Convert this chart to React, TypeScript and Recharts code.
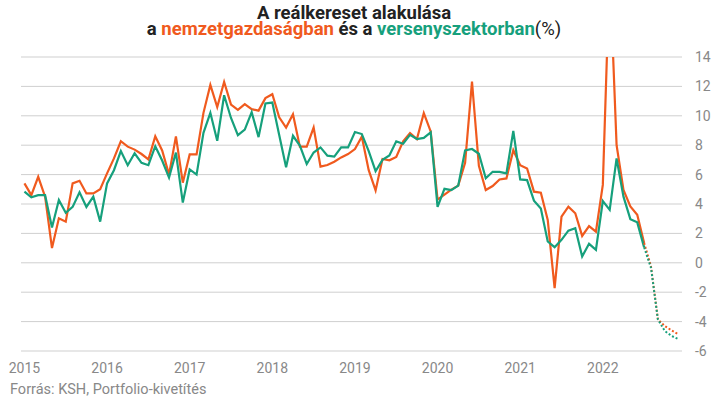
import { LineChart, Line, XAxis, YAxis, CartesianGrid } from 'recharts'

const NARANCS = '#f05a1e'
const ZOLD = '#16a07c'
const SZURKE = '#888888'

// havi adatok, 2015. január – 2022. július (tény)
const nemzetgazdasag = [
  5.4, 4.6, 5.85, 4.5, 1.0, 3.03, 2.8, 5.4, 5.58, 4.72, 4.72, 5.0,
  6.08, 7.1, 8.27, 7.9, 7.7, 7.4, 7.03, 8.6, 7.64, 6.0, 8.6, 5.45,
  7.37, 7.37, 10.2, 12.1, 10.6, 12.3, 10.76, 10.4, 10.8, 10.45, 10.35, 11.2,
  11.47, 9.9, 9.2, 10.1, 7.9, 7.9, 9.2, 6.54, 6.65, 6.88, 7.17, 7.4,
  7.74, 8.58, 6.3, 4.92, 7.06, 6.97, 7.2, 8.26, 8.82, 8.42, 10.18, 8.94,
  4.3, 4.64, 4.98, 5.25, 6.8, 12.33, 6.6, 4.95, 5.22, 5.67, 5.74, 7.66,
  6.64, 6.42, 4.84, 4.77, 2.92, -1.72, 3.14, 3.82, 3.37, 1.83, 2.5, 2.12,
  5.3, 20.0, 8.0, 4.96, 3.83, 3.27, 1.35,
]

const versenyszektor = [
  4.84, 4.45, 4.6, 4.6, 2.4, 4.27, 3.4, 3.8, 4.8, 3.8, 4.5, 2.8,
  5.4, 6.3, 7.6, 6.64, 7.45, 6.8, 6.64, 7.93, 6.96, 5.8, 7.5, 4.1,
  6.35, 6.0, 8.84, 10.2, 8.3, 11.4, 9.85, 8.68, 9.06, 10.25, 8.55, 10.84,
  10.9, 8.7, 6.5, 8.64, 7.97, 6.72, 7.5, 7.85, 7.29, 7.22, 7.85, 7.85,
  8.9, 8.76, 7.6, 6.23, 7.0, 7.3, 8.26, 8.1, 8.7, 8.42, 8.5, 8.87,
  3.8, 5.03, 4.94, 5.25, 7.65, 7.74, 7.42, 5.75, 6.19, 6.19, 6.08, 8.97,
  5.67, 5.63, 4.23, 3.7, 1.45, 1.06, 1.56, 2.19, 2.35, 0.43, 1.29, 0.88,
  4.2, 3.6, 7.1, 4.5, 2.97, 2.75, 1.05,
]

// kivetítés, 2022. július – december
const nemzetgazdasagKivetites = [1.35, -0.25, -3.85, -4.3, -4.6, -4.87]
const versenyszektorKivetites = [1.05, -0.35, -3.85, -4.64, -4.98, -5.2]

const EVEK = ['2015', '2016', '2017', '2018', '2019', '2020', '2021', '2022']
const Y_TICKS = [-6, -4, -2, 0, 2, 4, 6, 8, 10, 12, 14]

const tenyHossz = nemzetgazdasag.length
const osszHossz = tenyHossz - 1 + nemzetgazdasagKivetites.length

const data = Array.from({ length: osszHossz }, (_, idx) => ({
  idx,
  ng: idx < tenyHossz ? nemzetgazdasag[idx] : undefined,
  vs: idx < tenyHossz ? versenyszektor[idx] : undefined,
  ngK: idx >= tenyHossz - 1 ? nemzetgazdasagKivetites[idx - tenyHossz + 1] : undefined,
  vsK: idx >= tenyHossz - 1 ? versenyszektorKivetites[idx - tenyHossz + 1] : undefined,
}))

const X_TICKS = EVEK.map((_, i) => i * 12)

export default function App() {
  return (
    <div style={{ position: 'absolute', left: 0, top: 0, width: 713, height: 403, background: '#fff', fontFamily: 'Roboto' }}>
      <LineChart
        width={713}
        height={403}
        data={data}
        margin={{ top: 57, right: 0, bottom: 22, left: 21 }}
      >
        <CartesianGrid vertical={false} stroke="#cfcfcf" />
        <XAxis
          dataKey="idx"
          type="number"
          domain={[-0.5, osszHossz - 0.5]}
          ticks={X_TICKS}
          tickFormatter={(v) => EVEK[Math.round(v / 12)]}
          axisLine={false}
          tickLine={false}
          tickMargin={6}
          height={30}
          tick={{ fill: SZURKE, fontSize: 14, fontFamily: 'Roboto' }}
        />
        <YAxis
          orientation="right"
          domain={[-6, 14]}
          ticks={Y_TICKS}
          allowDataOverflow
          axisLine={false}
          tickLine={false}
          tickMargin={7}
          width={31}
          interval={0}
          tick={{ fill: SZURKE, fontSize: 14, fontFamily: 'Roboto', textAnchor: 'start' }}
        />
        <Line dataKey="ng" stroke={NARANCS} strokeWidth={2.2} dot={false} activeDot={false} isAnimationActive={false} />
        <Line dataKey="vs" stroke={ZOLD} strokeWidth={2.2} dot={false} activeDot={false} isAnimationActive={false} />
        <Line dataKey="ngK" stroke={NARANCS} strokeWidth={2} strokeDasharray="2 2" dot={false} activeDot={false} isAnimationActive={false} />
        <Line dataKey="vsK" stroke={ZOLD} strokeWidth={2} strokeDasharray="2 2" dot={false} activeDot={false} isAnimationActive={false} />
      </LineChart>
      <svg width={713} height={403} style={{ position: 'absolute', left: 0, top: 0, pointerEvents: 'none' }}>
        <text x={354} y={18.5} textAnchor="middle" fontFamily="Roboto" fontWeight="bold" fontSize={18.5} fill="#222">
          A reálkereset alakulása
        </text>
        <text x={354} y={35} textAnchor="middle" fontFamily="Roboto" fontSize={18.5} fill="#222">
          <tspan fontWeight="bold">a </tspan>
          <tspan fontWeight="bold" fill={NARANCS}>nemzetgazdaságban</tspan>
          <tspan fontWeight="bold"> és a </tspan>
          <tspan fontWeight="bold" fill={ZOLD}>versenyszektorban</tspan>
          <tspan>(%)</tspan>
        </text>
        <text x={10} y={394} fontFamily="Roboto" fontSize={14.5} fill={SZURKE}>
          Forrás: KSH, Portfolio-kivetítés
        </text>
      </svg>
    </div>
  )
}
